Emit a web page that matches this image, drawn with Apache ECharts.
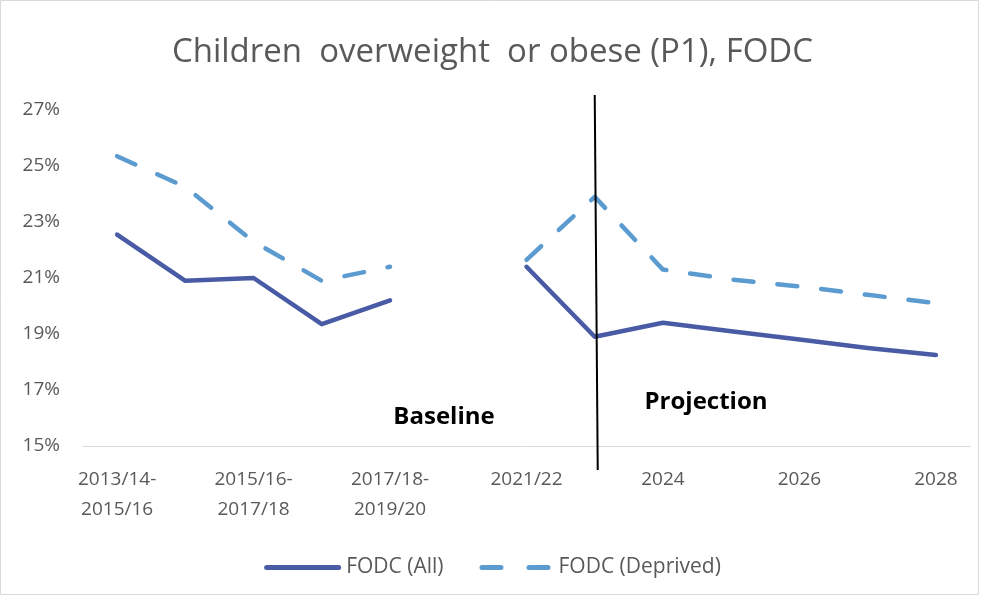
<!DOCTYPE html>
<html><head><meta charset="utf-8">
<script src="https://cdn.jsdelivr.net/npm/echarts@6/dist/echarts.min.js"></script>
<style>html,body{margin:0;padding:0;background:#fff}#c{width:985px;height:600px}</style>
</head><body><div id="c"></div>
<script>
const categories = ["2013/14-\n2015/16","2014/15-\n2016/17","2015/16-\n2017/18","2016/17-\n2018/19","2017/18-\n2019/20","2018/19-\n2020/21","2021/22","2023","2024","2025","2026","2027","2028"];
const fodcAll = [22.55, 20.9, 21.0, 19.35, 20.2, null, 21.4, 18.9, 19.4, 19.1, 18.8, 18.5, 18.25];
const fodcDeprived = [25.35, 24.25, 22.3, 20.9, 21.4, null, 21.65, 23.9, 21.3, 20.95, 20.7, 20.4, 20.1];
const yTicks = {min: 15, max: 27, interval: 2};
const dividerCategory = "2023";

const FONT = "'Open Sans', 'Liberation Sans', sans-serif";
const chart = echarts.init(document.getElementById('c'));
chart.setOption({
  animation: false,
  backgroundColor: '#fff',
  title: {
    text: 'Children  overweight  or obese (P1), FODC',
    left: 'center', top: 31,
    textStyle: {fontFamily: FONT, fontSize: 33, fontWeight: 'normal', color: '#595959'}
  },
  legend: {
    top: 552, left: 'center', itemWidth: 77, itemHeight: 5, itemGap: 36,
    textStyle: {fontFamily: FONT, fontSize: 21, color: '#595959'},
    data: [
      {name: 'FODC (All)', icon: 'path://M2.5,0H74.5A2.5,2.5,0,0,1,74.5,5H2.5A2.5,2.5,0,0,1,2.5,0Z'},
      {name: 'FODC (Deprived)', icon: 'path://M2.5,0H21.5A2.5,2.5,0,0,1,21.5,5H2.5A2.5,2.5,0,0,1,2.5,0ZM49.5,0H68.5A2.5,2.5,0,0,1,68.5,5H49.5A2.5,2.5,0,0,1,49.5,0Z'}
    ]
  },
  grid: {left: 83, right: 15, top: 110, bottom: 154},
  xAxis: {
    type: 'category', data: categories, boundaryGap: true,
    axisLine: {lineStyle: {color: '#d9d9d9', width: 1}},
    axisTick: {show: false},
    axisLabel: {interval: 1, fontFamily: FONT, fontSize: 19, color: '#595959', margin: 19, lineHeight: 30}
  },
  yAxis: {
    type: 'value', min: yTicks.min, max: yTicks.max, interval: yTicks.interval,
    axisLine: {show: false}, axisTick: {show: false}, splitLine: {show: false},
    axisLabel: {formatter: v => v + '%', fontFamily: FONT, fontSize: 19, color: '#595959', margin: 23}
  },
  series: [
    {name: 'FODC (All)', type: 'line', data: fodcAll, symbol: 'none', connectNulls: false,
     lineStyle: {color: '#4a5ba5', width: 4.5, cap: 'round', join: 'round'}, itemStyle: {color: '#4a5ba5'}},
    {name: 'FODC (Deprived)', type: 'line', data: fodcDeprived, symbol: 'none', connectNulls: false,
     lineStyle: {color: '#5b9bd0', width: 4.5, type: [20, 24], cap: 'round', join: 'round'}, itemStyle: {color: '#5b9bd0'}}
  ]
});
const xDiv = chart.convertToPixel({xAxisIndex: 0}, dividerCategory);
chart.setOption({
  graphic: [
    {type: 'rect', shape: {x: 0.5, y: 0.5, width: 978, height: 594}, style: {fill: 'none', stroke: '#d9d9d9', lineWidth: 1}, silent: true},
    {type: 'line', shape: {x1: xDiv, y1: 95, x2: xDiv + 3, y2: 470}, style: {stroke: '#000', lineWidth: 2}, z: 10},
    {type: 'text', x: 444, y: 417, style: {text: 'Baseline', font: "bold 24px 'Open Sans', sans-serif", fill: '#000', textAlign: 'center', textVerticalAlign: 'middle'}},
    {type: 'text', x: 706, y: 402, style: {text: 'Projection', font: "bold 24px 'Open Sans', sans-serif", fill: '#000', textAlign: 'center', textVerticalAlign: 'middle'}}
  ]
});
</script></body></html>
